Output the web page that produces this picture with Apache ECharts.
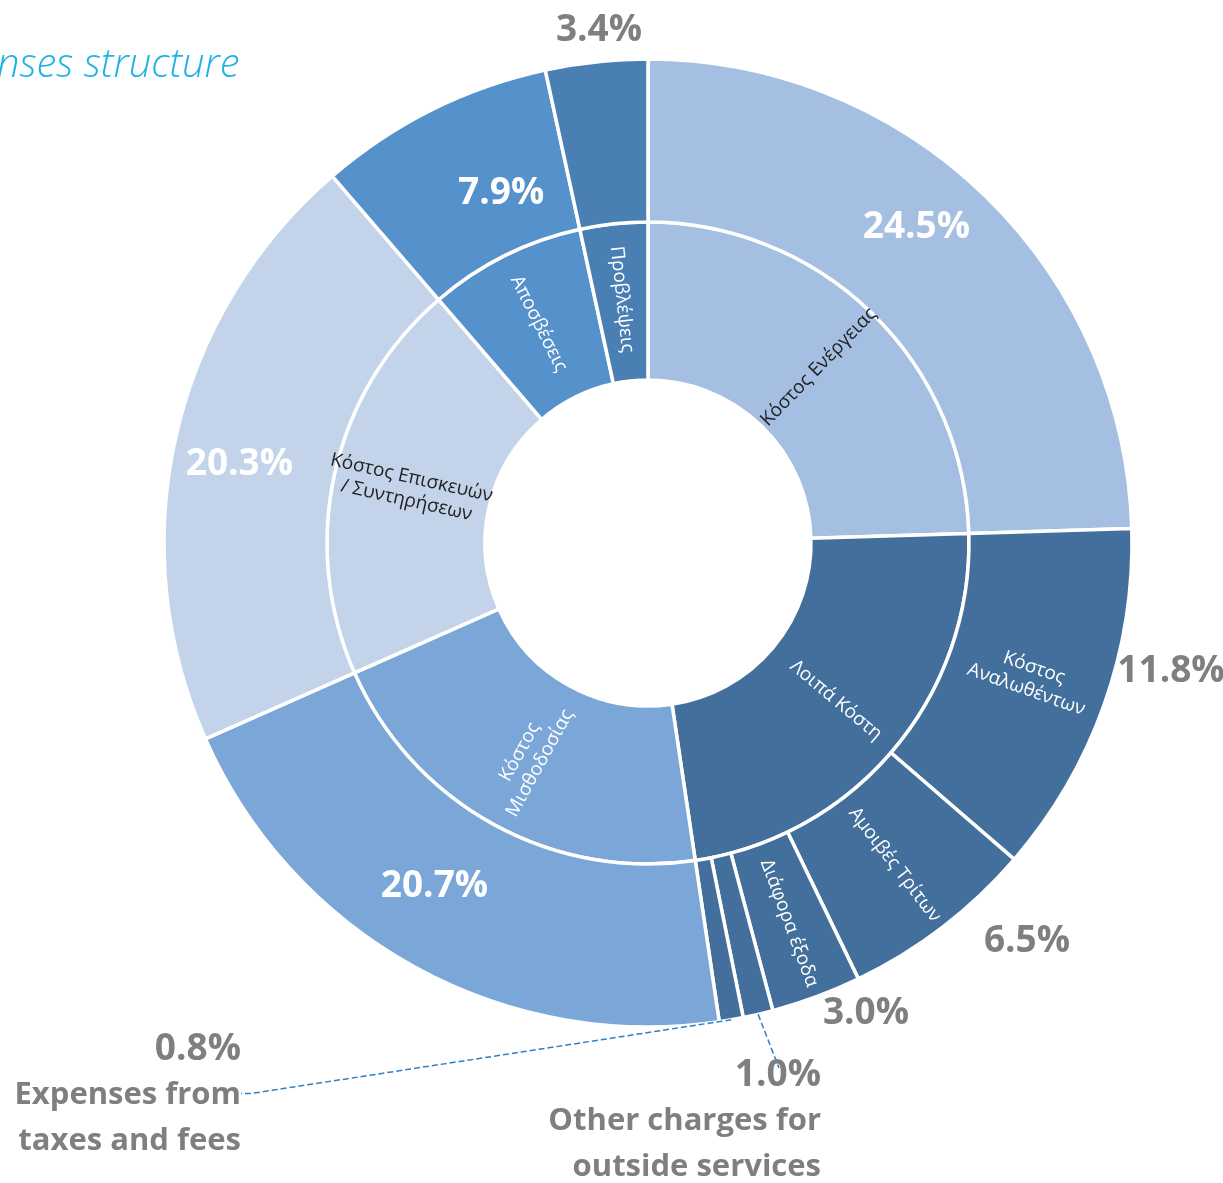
<!DOCTYPE html>
<html><head><meta charset="utf-8">
<script src="https://cdn.jsdelivr.net/npm/echarts@6/dist/echarts.min.js"></script>
<style>html,body{margin:0;padding:0;background:#fff}#c{width:1223px;height:1183px}</style>
</head><body><div id="c"></div>
<script>
// ---- data ----
const innerNames = ['Κόστος Ενέργειας', 'Λοιπά Κόστη', 'Κόστος\nΜισθοδοσίας', 'Κόστος Επισκευών\n/ Συντηρήσεων', 'Αποσβέσεις', 'Προβλέψεις'];
const innerValues = [24.5, 23.1, 20.7, 20.3, 7.9, 3.4];
const innerColors = ['#a4bfe2', '#426f9c', '#7ba7d8', '#c3d4ea', '#5591cb', '#4a7fb4'];

const outerNames = ['Κόστος Ενέργειας', 'Κόστος\nΑναλωθέντων', 'Αμοιβές Τρίτων', 'Διάφορα έξοδα',
  'Other charges for\noutside services', 'Expenses from\ntaxes and fees',
  'Κόστος Μισθοδοσίας', 'Κόστος Επισκευών / Συντηρήσεων', 'Αποσβέσεις', 'Προβλέψεις'];
const outerValues = [24.5, 11.8, 6.5, 3.0, 1.0, 0.8, 20.7, 20.3, 7.9, 3.4];
const outerColors = ['#a4bfe2', '#426f9c', '#426f9c', '#426f9c', '#426f9c', '#426f9c', '#7ba7d8', '#c3d4ea', '#5591cb', '#4a7fb4'];
const titleText = 'nses structure';

// label style config (not data)
const innerDark = [0, 3];
const outerPctInside = [0, 6, 7, 8];
const outerNameInside = [1, 2, 3];
const outsideLabels = [1, 2, 3, 4, 5, 9];
const pctInsideShift = {0: [-14, -25], 6: [-18, -12], 7: [-13, 11], 8: [34, 13]};
const outsidePos = {
  9: [599, 30, 'center', 'middle'],
  1: [1171, 671, 'center', 'middle'],
  2: [1027, 941, 'center', 'middle'],
  3: [866, 1013, 'center', 'middle'],
  4: [821, 1052, 'right', 'top'],
  5: [241, 1026, 'right', 'top']
};
const lineEnd = {4: [-42, 16]};

const C = [648, 543];
const fmtPct = v => v.toFixed(1) + '%';

const chart = echarts.init(document.getElementById('c'));
chart.setOption({
  animation: false,
  backgroundColor: '#fff',
  graphic: [{
    type: 'text', left: -3, top: 46,
    style: {text: titleText, font: 'italic 300 40px "Open Sans"', fill: '#1fb3e4'}
  }],
  series: [
    {
      type: 'pie', center: C, radius: [163, 321], startAngle: 90, clockwise: true,
      silent: true, avoidLabelOverlap: false,
      itemStyle: {borderColor: '#fff', borderWidth: 3.5},
      label: {position: 'inside', rotate: 'radial', formatter: '{b}',
        fontFamily: 'Open Sans', fontSize: 19, lineHeight: 23, color: '#fff'},
      labelLine: {show: false},
      data: innerNames.map((n, i) => ({
        name: n, value: innerValues[i], itemStyle: {color: innerColors[i]},
        label: innerDark.includes(i) ? {color: '#222'} : {}
      }))
    },
    {
      type: 'pie', center: C, radius: [321, 484], startAngle: 90, clockwise: true,
      silent: true, avoidLabelOverlap: false,
      itemStyle: {borderColor: '#fff', borderWidth: 3.5},
      label: {position: 'inside', rotate: 'radial', formatter: '{b}',
        fontFamily: 'Open Sans', fontSize: 19, lineHeight: 23, color: '#fff'},
      labelLine: {show: false},
      labelLayout: function (p) {
        const s = pctInsideShift[p.dataIndex];
        return s ? {dx: s[0], dy: s[1]} : {};
      },
      data: outerNames.map((n, i) => {
        let label;
        if (outerPctInside.includes(i)) {
          label = {rotate: 0, formatter: fmtPct(outerValues[i]), fontSize: 37, fontWeight: 'bold', color: '#fff'};
        } else if (outerNameInside.includes(i)) {
          label = {};
        } else {
          label = {show: false};
        }
        return {name: n, value: outerValues[i], itemStyle: {color: outerColors[i]}, label};
      })
    },
    {
      type: 'pie', center: C, radius: [321, 484], startAngle: 90, clockwise: true,
      silent: true, avoidLabelOverlap: false, z: 5,
      itemStyle: {color: 'rgba(0,0,0,0)', borderWidth: 0},
      label: {position: 'outside', fontFamily: 'Open Sans', fontWeight: 'bold', fontSize: 37, color: '#7f7f7f',
        rich: {
          p: {fontFamily: 'Open Sans', fontWeight: 'bold', fontSize: 37, color: '#7f7f7f', lineHeight: 46, align: 'right'},
          n: {fontFamily: 'Open Sans', fontWeight: 'bold', fontSize: 31, color: '#7f7f7f', lineHeight: 46, align: 'right'}
        }},
      labelLine: {show: false, length: 10, length2: 10},
      labelLayout: function (p) {
        const o = outsidePos[p.dataIndex];
        if (!o) return {};
        const res = {x: o[0], y: o[1], align: o[2], verticalAlign: o[3]};
        const e = lineEnd[p.dataIndex];
        if (e && p.labelLinePoints) {
          res.labelLinePoints = [p.labelLinePoints[0], [o[0] + e[0], o[1] + e[1]]];
        }
        return res;
      },
      data: outerNames.map((n, i) => {
        const item = {name: n, value: outerValues[i]};
        if (!outsideLabels.includes(i)) {
          item.label = {show: false};
        } else if (i === 4 || i === 5) {
          const lines = n.split('\n').map(t => '{n|' + t + '}').join('\n');
          item.label = {formatter: '{p|' + fmtPct(outerValues[i]) + '}\n' + lines, align: 'right'};
          item.labelLine = {show: true, lineStyle: {type: 'dashed', color: '#2f7fca', width: 1.5}};
        } else {
          item.label = {formatter: fmtPct(outerValues[i])};
        }
        return item;
      })
    }
  ]
});
</script>
</body></html>
